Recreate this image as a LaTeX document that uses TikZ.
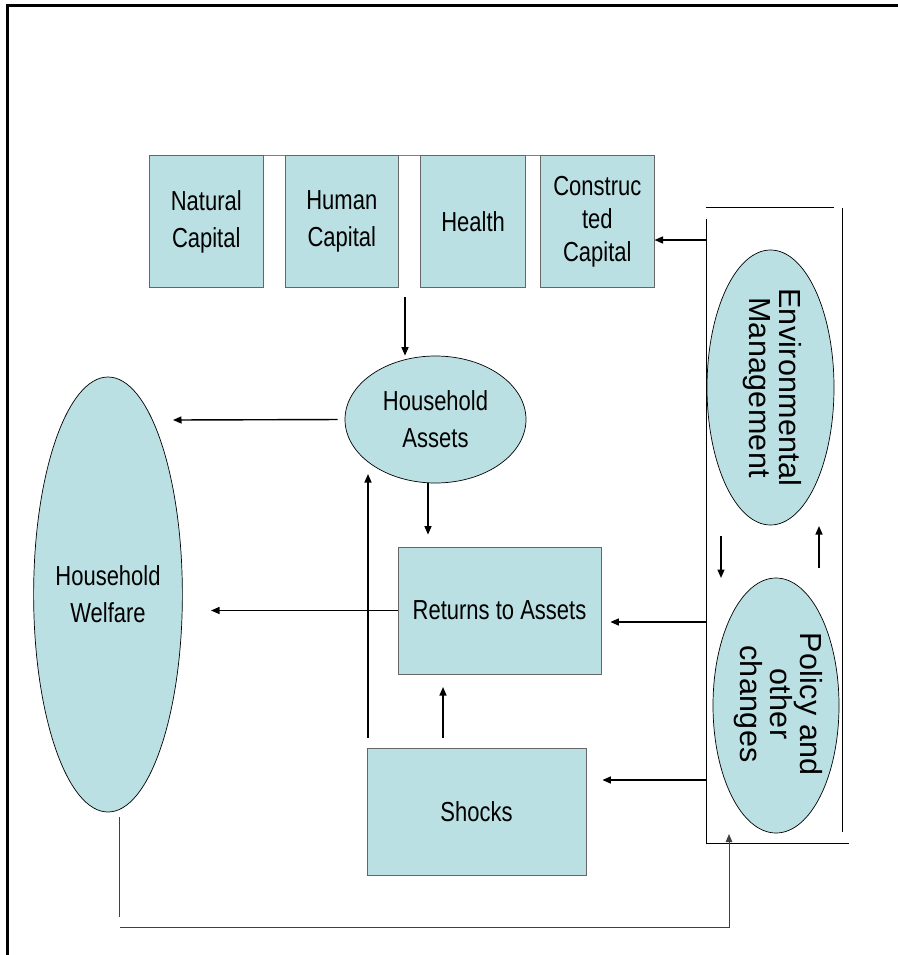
\documentclass[tikz,border=0pt]{standalone}
\usepackage{fontspec}
\setmainfont{Liberation Sans}[FakeStretch=0.8]
\newfontfamily\spc{Liberation Sans}[LetterSpace=1]
\usetikzlibrary{shapes.geometric,arrows.meta}
\definecolor{boxfill}{HTML}{BBE0E3}
\begin{document}
\begin{tikzpicture}[x=1pt,y=-1pt,
  txt/.style={align=center,font=\fontsize{27.5}{37}\selectfont},
  box/.style={txt,rectangle,draw=black!60,line width=0.8pt,fill=boxfill,inner sep=0pt},
  ell/.style={txt,ellipse,draw=black,line width=0.7pt,fill=boxfill,inner sep=0pt},
  rtxt/.style={rotate=-90,align=center,inner sep=0pt,font=\spc\fontsize{30.5}{30}\selectfont},
  arr/.style={line width=1.4pt,-{Triangle[length=8.5pt,width=7pt]}},
  fb/.style={draw=black!75,line width=0.8pt},
  frame/.style={line width=3pt},
  panel/.style={line width=1pt}]
\useasboundingbox (0,0) rectangle (897,955);
% outer frame
\draw[frame] (7,955) -- (7,6) -- (900,6);

% top capital boxes
\draw[black!50,line width=0.6pt] (149.6,155.5) -- (654.1,155.5);
\node[box,minimum width=113.3pt,minimum height=131.9pt] (nat) at (206.25,221.45) {Natural\\Capital};
\node[box,minimum width=113pt,minimum height=131.9pt] (hum) at (341.8,221.45) {Human\\Capital};
\node[box,minimum width=105.1pt,minimum height=131.9pt] (hea) at (473.15,221.45) {Health};
\node[box,minimum width=113.6pt,minimum height=131.9pt,font=\fontsize{27.5}{33}\selectfont] (con) at (597.3,221.45) {Construc\\ted\\Capital};

% central nodes
\node[ell,minimum width=181pt,minimum height=127pt] (ha) at (435.5,419.5) {Household\\Assets};
\node[ell,minimum width=142pt,minimum height=435pt] (hw) at (108,594.5) {Household\\Welfare};
\node[box,minimum width=203pt,minimum height=127pt] (ret) at (499.5,610.5) {Returns to Assets};
\node[box,minimum width=219pt,minimum height=127pt] (sho) at (476.5,811.5) {Shocks};

% right panel
\draw[panel] (706,207) -- (834,207);
\draw[panel] (706,219) -- (706,843);
\draw[panel] (842,208) -- (842,832);
\draw[panel] (706,843) -- (849,843);
\node[ellipse,draw=black,line width=0.7pt,fill=boxfill,minimum width=127pt,minimum height=275pt,inner sep=0pt] (env) at (770.5,387.5) {};
\node[rtxt] (envt) at (772.5,387.5) {Environmental\\Management};
\node[ellipse,draw=black,line width=0.7pt,fill=boxfill,minimum width=126pt,minimum height=255pt,inner sep=0pt] (pol) at (776,705.5) {};
\node[rtxt] (polt) at (778,704) {Policy and\\other\\changes};

% coordinates for free ends
\coordinate (pc) at (706,240);
\coordinate (pr) at (706,622);
\coordinate (ps) at (706,780);
\coordinate (tb) at (405,297);
\coordinate (hwa) at (173,420);
\coordinate (hwr) at (211,610.5);
\coordinate (d1) at (721,536);
\coordinate (d2) at (721,578);
\coordinate (u1) at (819,568);
\coordinate (u2) at (819,526);
\coordinate (sa) at (368,738);
\coordinate (sa2) at (368,474);
\coordinate (sr) at (443,738);
\coordinate (sr2) at (443,687);

% arrows
\draw[arr] (pc) -- (pc -| con.east);
\draw[arr] (tb) -- (tb |- ha.north);
\draw[arr,shorten <=7pt] (ha.west) -- (hwa);
\draw[arr] ([xshift=-7.5pt]ha.south) -- ([xshift=-71.5pt,yshift=12pt]ret.north);
\draw[arr] (ret.west) -- (hwr);
\draw[arr,shorten >=9pt] (pr) -- (pr -| ret.east);
\draw[arr,shorten >=16pt] (ps) -- (ps -| sho.east);
\draw[arr] (sr) -- (sr2);
\draw[arr] (sa) -- (sa2);
\draw[arr] (d1) -- (d2);
\draw[arr] (u1) -- (u2);

% feedback loop
\coordinate (f1) at (119.5,817);
\coordinate (f2) at (119.5,917);
\coordinate (f3) at (119.5,927);
\coordinate (f4) at (729,927);
\coordinate (f5) at (729,834);
\draw[fb] (f1) -- (f2);
\draw[fb,-{Triangle[length=8pt,width=6.5pt]}] (f3) -- (f4) -- (f5);
\end{tikzpicture}
\end{document}
